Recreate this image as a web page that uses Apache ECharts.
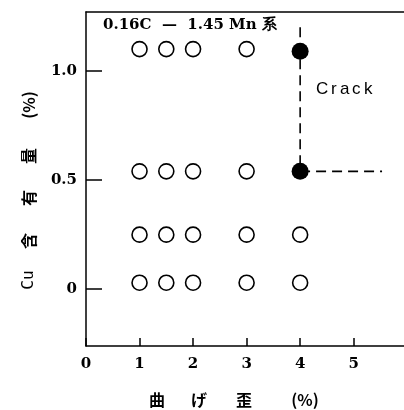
<!DOCTYPE html>
<html><head><meta charset="utf-8">
<script src="https://cdn.jsdelivr.net/npm/echarts@6/dist/echarts.min.js"></script>
<style>html,body{margin:0;padding:0;background:#fff}#c{width:404px;height:410px}</style>
</head><body><div id="c"></div>
<script>
// Data
const openPoints = [
  [1, 1.1], [1.5, 1.1], [2, 1.1], [3, 1.1],
  [1, 0.54], [1.5, 0.54], [2, 0.54], [3, 0.54],
  [1, 0.25], [1.5, 0.25], [2, 0.25], [3, 0.25], [4, 0.25],
  [1, 0.03], [1.5, 0.03], [2, 0.03], [3, 0.03], [4, 0.03]
];
const crackPoints = [[4, 1.09], [4, 0.54]];
const crackBoundary = [[4, 1.2], [4, 0.54], [5.53, 0.54]];
const yTicks = [0, 0.5, 1.0];
const xTitleChars = ['曲', 'げ', '歪', '(%)'];
const yTitleChars = ['Cu', '含', '有', '量', '(%)'];
const seriesTitle = '0.16C  —  1.45 Mn 系';
const crackLabel = 'Crack';

const chart = echarts.init(document.getElementById('c'), null, {renderer: 'canvas'});
const serif = '"DejaVu Serif", "Liberation Serif", serif';
const cjk = '"Noto Sans CJK JP", "Noto Sans", sans-serif';
const xTitleX = [157, 199, 244, 305];
const yTitleY = [280, 241, 198, 156, 105];

const graphics = [];
xTitleChars.forEach((t, i) => graphics.push({
  type: 'text', x: xTitleX[i], y: 400,
  style: {text: t, font: 'bold 16px ' + cjk, fill: '#000', textAlign: 'center', textVerticalAlign: 'middle'}
}));
yTitleChars.forEach((t, i) => graphics.push({
  type: 'text', x: 29, y: yTitleY[i], rotation: Math.PI / 2,
  style: {text: t, font: (i === 0 ? '16px "DejaVu Sans Mono", monospace' : 'bold 16px ' + cjk), fill: '#000', textAlign: 'center', textVerticalAlign: 'middle'}
}));
// "Crack" label, letters spread out as in the original
crackLabel.split('').forEach((ch, i) => graphics.push({
  type: 'text', x: 316 + [0, 15, 24, 36, 48][i], y: 89,
  style: {text: ch, font: '17px "Liberation Sans", Arial, sans-serif', fill: '#000', textAlign: 'left', textVerticalAlign: 'middle'}
}));

chart.setOption({
  animation: false,
  backgroundColor: '#fff',
  grid: {left: 86, top: 12, right: 0, bottom: 64, containLabel: false},
  xAxis: [{
    type: 'value', min: 0, max: 5.94, interval: 1,
    axisLine: {onZero: false, lineStyle: {color: '#000', width: 1.5}},
    axisTick: {inside: true, length: 8, lineStyle: {color: '#000', width: 1.5}},
    splitLine: {show: false},
    axisLabel: {color: '#000', fontFamily: serif, fontWeight: 'bold', fontSize: 15, margin: 11,
      showMaxLabel: false, formatter: v => (Number.isInteger(v) ? String(v) : '')}
  }, {
    type: 'value', position: 'top', min: 0, max: 5.94,
    axisLine: {show: true, onZero: false, lineStyle: {color: '#000', width: 1.5}},
    axisTick: {show: false}, axisLabel: {show: false}, splitLine: {show: false}
  }],
  yAxis: {
    type: 'value', min: -0.26, max: 1.27,
    axisLine: {show: true, onZero: false, lineStyle: {color: '#000', width: 1.5}},
    axisTick: {show: true, inside: true, length: 16, customValues: yTicks, lineStyle: {color: '#000', width: 1.5}},
    splitLine: {show: false},
    axisLabel: {color: '#000', fontFamily: serif, fontWeight: 'bold', fontSize: 15, margin: 9,
      customValues: yTicks, formatter: v => (v === 0 ? '0' : v.toFixed(1))}
  },
  series: [
    {type: 'line', data: crackBoundary, symbol: 'none', silent: true, z: 1,
      lineStyle: {color: '#000', width: 1.6, type: [10, 6]}},
    {type: 'scatter', data: openPoints, symbol: 'circle', symbolSize: 15, z: 3,
      itemStyle: {color: '#fff', borderColor: '#000', borderWidth: 1.6, opacity: 1}},
    {type: 'scatter', data: crackPoints, symbol: 'circle', symbolSize: 17, z: 3,
      itemStyle: {color: '#000', opacity: 1}}
  ],
  graphic: graphics.concat([
    {type: 'text', x: 103, y: 25,
      style: {text: seriesTitle, font: 'bold 15px ' + serif, fill: '#000', textAlign: 'left', textVerticalAlign: 'middle'}}
  ])
});
</script></body></html>
